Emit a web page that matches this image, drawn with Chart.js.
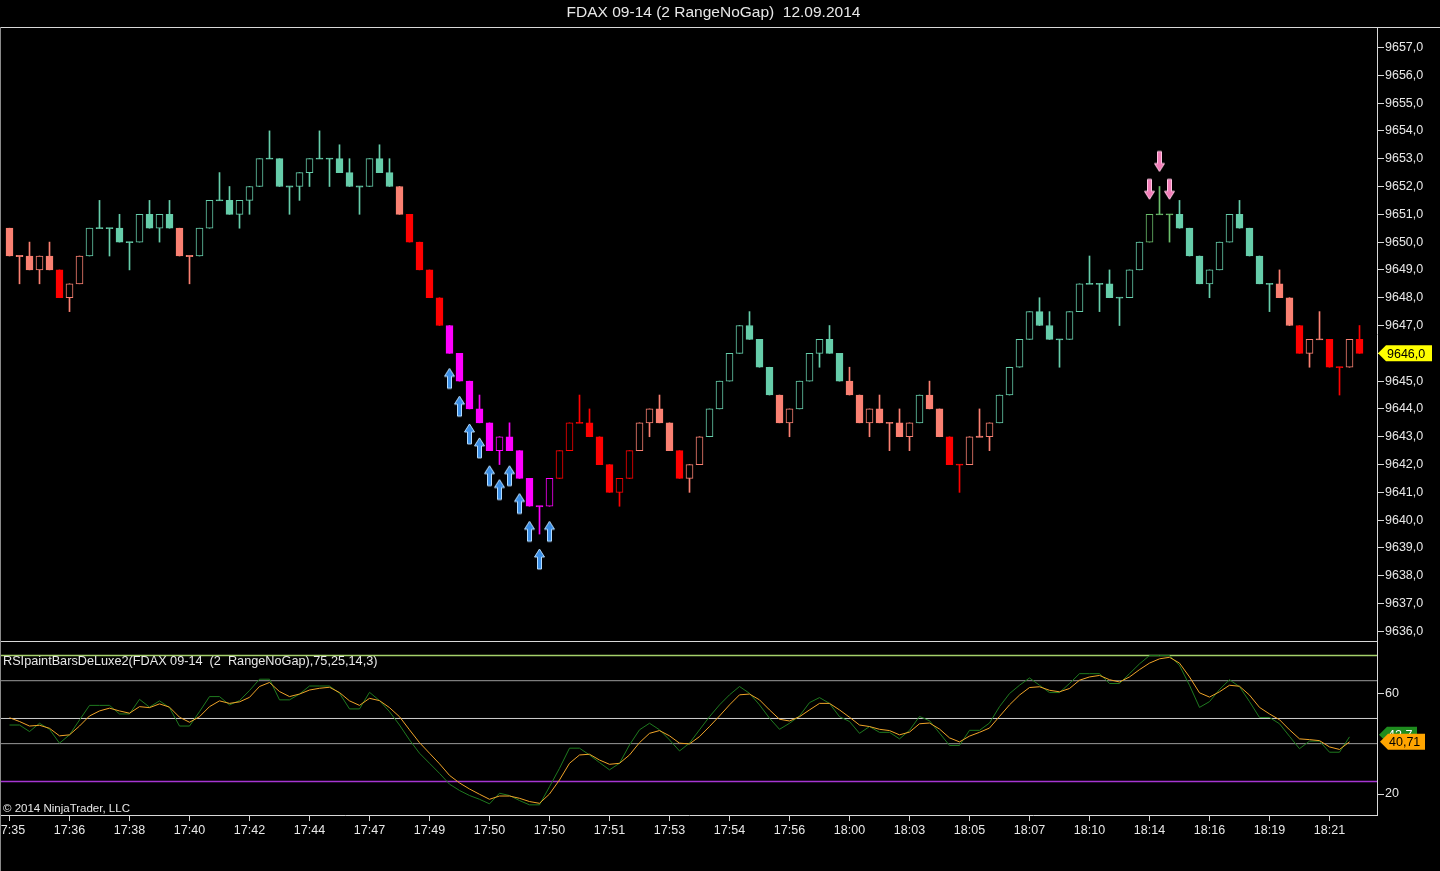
<!DOCTYPE html>
<html>
<head>
<meta charset="utf-8">
<title>FDAX 09-14 (2 RangeNoGap) 12.09.2014</title>
<script src="https://cdn.jsdelivr.net/npm/chart.js@4.4.1/dist/chart.umd.min.js"></script>
<style>
  html, body { margin: 0; padding: 0; background: #000; }
  body { width: 1440px; height: 871px; position: relative; overflow: hidden;
         font-family: 'Liberation Sans', Arial, sans-serif; color: #e8e8e8; }
  canvas { position: absolute; }
  #priceChart { left: -40px; top: 0; }
  #rsiChart { left: -40px; top: 641px; }
  .line { position: absolute; background: #d8d8d8; }
  .txt { position: absolute; white-space: pre; line-height: 1; }
</style>
</head>
<body>
<canvas id="priceChart" width="1480" height="641"></canvas>
<canvas id="rsiChart" width="1480" height="230"></canvas>
<div class="txt" style="left:0;width:1427px;top:4px;text-align:center;font-size:15.5px;">FDAX 09-14 (2 RangeNoGap)  12.09.2014</div>
<div class="line" style="left:0;top:27px;width:1440px;height:1px;"></div>
<div class="line" style="left:0;top:641px;width:1378px;height:1px;"></div>
<div class="line" style="left:0;top:27px;width:1px;height:844px;background:#8a8a8a;"></div>
<div class="txt" style="left:3px;top:655px;font-size:12.7px;">RSIpaintBarsDeLuxe2(FDAX 09-14  (2  RangeNoGap),75,25,14,3)</div>
<div class="txt" style="left:3px;top:803px;font-size:11.5px;">© 2014 NinjaTrader, LLC</div>
<script>
// range bars, one entry per bar
const opens = [
  9650.5, 9649.5, 9649.5, 9649, 9649.5, 9649, 9648, 9648.5, 9649.5, 9650.5,
  9650.5, 9650.5, 9650, 9650, 9651, 9650.5, 9651, 9650.5, 9649.5, 9649.5,
  9650.5, 9651.5, 9651.5, 9651, 9651.5, 9652, 9653, 9653, 9652, 9652,
  9652.5, 9653, 9653, 9653, 9652.5, 9652, 9652, 9653, 9652.5, 9652,
  9651, 9650, 9649, 9648, 9647, 9646, 9645, 9644, 9643.5, 9642.5,
  9643, 9642.5, 9641.5, 9640.5, 9640.5, 9641.5, 9642.5, 9643.5, 9643.5, 9643,
  9642, 9641, 9641.5, 9642.5, 9643.5, 9644, 9643.5, 9642.5, 9641.5, 9642,
  9643, 9644, 9645, 9646, 9647, 9646.5, 9645.5, 9644.5, 9643.5, 9644,
  9645, 9646, 9646.5, 9646, 9645, 9644.5, 9643.5, 9644, 9643.5, 9643.5,
  9643, 9643.5, 9644.5, 9644, 9643, 9642, 9642, 9643, 9643, 9643.5,
  9644.5, 9645.5, 9646.5, 9647.5, 9647, 9646.5, 9646.5, 9647.5, 9648.5, 9648.5,
  9648.5, 9648, 9648, 9649, 9650, 9651, 9651, 9651, 9650.5, 9649.5,
  9648.5, 9649, 9650, 9651, 9650.5, 9649.5, 9648.5, 9648.5, 9648, 9647,
  9646, 9646.5, 9646.5, 9645.5, 9645.5, 9646.5
];
const highs = [
  9650.5, 9649.5, 9650, 9649.5, 9650, 9649, 9648.5, 9649.5, 9650.5, 9651.5,
  9650.5, 9651, 9650, 9651, 9651.5, 9651, 9651.5, 9650.5, 9649.5, 9650.5,
  9651.5, 9652.5, 9652, 9651.5, 9652, 9653, 9654, 9653, 9652, 9652.5,
  9653, 9654, 9653, 9653.5, 9653, 9652, 9653, 9653.5, 9653, 9652,
  9651, 9650, 9649, 9648, 9647, 9646, 9645, 9644.5, 9643.5, 9643,
  9643.5, 9642.5, 9641.5, 9640.5, 9641.5, 9642.5, 9643.5, 9644.5, 9644, 9643,
  9642, 9641.5, 9642.5, 9643.5, 9644, 9644.5, 9643.5, 9642.5, 9642, 9643,
  9644, 9645, 9646, 9647, 9647.5, 9646.5, 9645.5, 9644.5, 9644, 9645,
  9646, 9646.5, 9647, 9646, 9645.5, 9644.5, 9644, 9644.5, 9643.5, 9644,
  9643.5, 9644.5, 9645, 9644, 9643, 9642, 9643, 9644, 9643.5, 9644.5,
  9645.5, 9646.5, 9647.5, 9648, 9647.5, 9646.5, 9647.5, 9648.5, 9649.5, 9648.5,
  9649, 9648, 9649, 9650, 9651, 9652, 9651, 9651.5, 9650.5, 9649.5,
  9649, 9650, 9651, 9651.5, 9650.5, 9649.5, 9648.5, 9649, 9648, 9647,
  9646.5, 9647.5, 9646.5, 9645.5, 9646.5, 9647
];
const lows = [
  9649.5, 9648.5, 9649, 9648.5, 9649, 9648, 9647.5, 9648.5, 9649.5, 9650.5,
  9649.5, 9650, 9649, 9650, 9650.5, 9650, 9650.5, 9649.5, 9648.5, 9649.5,
  9650.5, 9651.5, 9651, 9650.5, 9651, 9652, 9653, 9652, 9651, 9651.5,
  9652, 9653, 9652, 9652.5, 9652, 9651, 9652, 9652.5, 9652, 9651,
  9650, 9649, 9648, 9647, 9646, 9645, 9644, 9643.5, 9642.5, 9642,
  9642.5, 9641.5, 9640.5, 9639.5, 9640.5, 9641.5, 9642.5, 9643.5, 9643, 9642,
  9641, 9640.5, 9641.5, 9642.5, 9643, 9643.5, 9642.5, 9641.5, 9641, 9642,
  9643, 9644, 9645, 9646, 9646.5, 9645.5, 9644.5, 9643.5, 9643, 9644,
  9645, 9645.5, 9646, 9645, 9644.5, 9643.5, 9643, 9643.5, 9642.5, 9643,
  9642.5, 9643.5, 9644, 9643, 9642, 9641, 9642, 9643, 9642.5, 9643.5,
  9644.5, 9645.5, 9646.5, 9647, 9646.5, 9645.5, 9646.5, 9647.5, 9648.5, 9647.5,
  9648, 9647, 9648, 9649, 9650, 9651, 9650, 9650.5, 9649.5, 9648.5,
  9648, 9649, 9650, 9650.5, 9649.5, 9648.5, 9647.5, 9648, 9647, 9646,
  9645.5, 9646.5, 9645.5, 9644.5, 9645.5, 9646
];
const closes = [
  9649.5, 9649.5, 9649, 9649.5, 9649, 9648, 9648.5, 9649.5, 9650.5, 9650.5,
  9650.5, 9650, 9650, 9651, 9650.5, 9651, 9650.5, 9649.5, 9649.5, 9650.5,
  9651.5, 9651.5, 9651, 9651.5, 9652, 9653, 9653, 9652, 9652, 9652.5,
  9653, 9653, 9653, 9652.5, 9652, 9652, 9653, 9652.5, 9652, 9651,
  9650, 9649, 9648, 9647, 9646, 9645, 9644, 9643.5, 9642.5, 9643,
  9642.5, 9641.5, 9640.5, 9640.5, 9641.5, 9642.5, 9643.5, 9643.5, 9643, 9642,
  9641, 9641.5, 9642.5, 9643.5, 9644, 9643.5, 9642.5, 9641.5, 9642, 9643,
  9644, 9645, 9646, 9647, 9646.5, 9645.5, 9644.5, 9643.5, 9644, 9645,
  9646, 9646.5, 9646, 9645, 9644.5, 9643.5, 9644, 9643.5, 9643.5, 9643,
  9643.5, 9644.5, 9644, 9643, 9642, 9642, 9643, 9643, 9643.5, 9644.5,
  9645.5, 9646.5, 9647.5, 9647, 9646.5, 9646.5, 9647.5, 9648.5, 9648.5, 9648.5,
  9648, 9648, 9649, 9650, 9651, 9651, 9651, 9650.5, 9649.5, 9648.5,
  9649, 9650, 9651, 9650.5, 9649.5, 9648.5, 9648.5, 9648, 9647, 9646,
  9646.5, 9646.5, 9645.5, 9645.5, 9646.5, 9646
];

// rsi zone of each bar: u above 50, d below 50, w weak, x oversold, o overbought
const rsiZone = ('ddddd w dd uuuuu uuuu dd uuuuu uuuuu uuuuu uuuuu d wwww xxxxx xxxxx x ' +
  'wwwww www dddd w dd uuuuu uu dd uuuuu ddddd dd u dd ww ddd uuuuu uuuuu uuuuu ooo ' +
  'uuuuu uuuuu dd w dd ww d w').replace(/ /g, '').split('');

// signal arrows (bar indices)
const buyBars = [44, 45, 46, 47, 48, 49, 50, 51, 52, 53, 54];
const sellBars = [114, 115, 116];

// RSI(14) and its 3-bar average, last bar not yet calculated
const rsi = [
  47.4, 47.4, 44.8, 48.1, 45.7, 40.2, 43.5, 49.4, 55.2, 55.2,
  55.2, 51.8, 51.8, 57.6, 54.5, 57.0, 54.3, 47.0, 47.0, 52.7,
  58.7, 58.7, 55.4, 57.1, 61.1, 65.6, 65.6, 57.4, 57.4, 59.7,
  62.9, 62.9, 62.9, 60.0, 53.8, 53.8, 60.4, 57.1, 52.7, 47.4,
  41.5, 36.2, 32.2, 28.2, 23.9, 21.4, 19.4, 17.9, 16.1, 20.3,
  19.4, 17.4, 15.7, 15.7, 22.9, 30.2, 38.2, 38.2, 35.5, 32.5,
  29.6, 32.2, 39.5, 45.5, 48.1, 45.5, 41.5, 37.1, 40.2, 45.5,
  50.7, 55.4, 59.4, 62.7, 60.0, 55.4, 50.1, 45.7, 48.1, 51.0,
  56.3, 58.3, 56.0, 50.7, 48.8, 44.1, 46.8, 44.5, 44.5, 41.9,
  45.3, 50.8, 49.1, 44.2, 39.3, 39.3, 45.3, 45.3, 48.2, 54.7,
  59.9, 63.2, 66.1, 63.2, 60.3, 60.3, 63.9, 67.8, 67.8, 67.8,
  63.9, 63.9, 67.8, 71.7, 75.0, 75.0, 75.0, 71.1, 63.2, 54.4,
  56.7, 61.5, 65.4, 62.6, 56.7, 50.4, 50.4, 47.9, 42.9, 38.0,
  41.0, 41.0, 36.6, 36.6, 42.7
];
const rsiAvg = [
  50.3, 48.8, 47.0, 47.3, 46.1, 43.1, 43.5, 47.0, 51.0, 53.0,
  54.1, 53.0, 52.1, 54.7, 54.3, 55.8, 54.5, 50.5, 48.5, 50.7,
  54.7, 57.0, 56.0, 56.6, 58.4, 62.7, 64.3, 60.7, 58.7, 59.7,
  61.3, 62.0, 62.4, 60.3, 57.0, 55.2, 58.0, 57.1, 54.3, 50.7,
  45.5, 40.4, 36.2, 32.0, 27.4, 24.4, 22.0, 19.9, 17.9, 19.2,
  19.2, 18.3, 17.0, 16.3, 20.0, 25.6, 32.2, 35.5, 35.8, 33.5,
  31.8, 32.2, 35.5, 40.4, 44.1, 45.2, 43.1, 40.2, 39.9, 42.8,
  46.8, 51.0, 55.4, 59.4, 59.7, 57.4, 53.4, 49.7, 49.0, 50.7,
  53.4, 56.0, 56.0, 53.4, 50.5, 47.4, 46.8, 45.7, 45.2, 43.5,
  44.6, 47.9, 48.2, 45.8, 42.3, 40.7, 43.0, 44.5, 46.2, 50.8,
  55.4, 59.3, 62.3, 62.6, 61.2, 60.6, 61.9, 65.2, 66.5, 67.1,
  65.4, 64.5, 66.5, 69.4, 72.0, 73.7, 74.3, 72.0, 66.5, 60.2,
  58.5, 60.6, 63.2, 62.8, 59.3, 54.4, 51.8, 49.5, 45.5, 41.9,
  41.6, 41.2, 38.7, 37.7, 40.71
];
const rsiLevels = [75, 65, 50, 40, 25];

// axis labels
const priceTicks = [9636, 9637, 9638, 9639, 9640, 9641, 9642, 9643, 9644, 9645, 9646,
  9647, 9648, 9649, 9650, 9651, 9652, 9653, 9654, 9655, 9656, 9657];
const rsiTicks = [20, 60];
const timeLabels = ['17:35', '17:36', '17:38', '17:40', '17:42', '17:44', '17:47', '17:49',
  '17:50', '17:50', '17:51', '17:53', '17:54', '17:56', '18:00', '18:03', '18:05', '18:07',
  '18:10', '18:14', '18:16', '18:19', '18:21'];

const FONT = "'Liberation Sans', Arial, sans-serif";
const AXIS = '#d8d8d8';
const TEXT = '#e8e8e8';
const X_MIN = -0.85, X_MAX = 136.75;
const zoneColor = { u: '#66CDAA', d: '#FA8072', w: '#FF0000', x: '#FF00FF', o: '#6CBF6C' };
const levelColor = { 75: '#A4D06A', 65: '#9A9A9A', 50: '#D0D0D0', 40: '#9A9A9A', 25: '#A636D2' };
const levelWidth = { 75: 1.5, 65: 1, 50: 1, 40: 1, 25: 1.5 };

const idx = closes.map((_, i) => i);
const barColor = idx.map(i => zoneColor[rsiZone[i]]);
const bodyFill = idx.map(i => closes[i] > opens[i] ? '#000' : barColor[i]);
const wickData = idx.map(i => ({ x: i, y: [lows[i], highs[i]] }));
const bodyData = idx.map(i => {
  const o = opens[i], c = closes[i];
  return { x: i, y: o === c ? [o - 0.02, o + 0.02] : [o, c] };
});

// keep the plot area exactly where the layout padding puts it
function fixWidth(s) {
  s.width = 63;
  s.paddingTop = 0;
  s.paddingBottom = 0;
}
function fixHeight(s) {
  s.height = 56;
  s.paddingLeft = 0;
  s.paddingRight = 0;
}

function arrowImage(up, fill, edge) {
  const c = document.createElement('canvas');
  c.width = 13; c.height = 74;
  const g = c.getContext('2d');
  const cx = 6.5, mid = 37, s = up ? 1 : -1;
  const tip = mid + s * 15, neck = tip + s * 8, tail = mid + s * 35;
  g.beginPath();
  g.moveTo(cx, tip);
  g.lineTo(cx + 5, neck);
  g.lineTo(cx + 2, neck);
  g.lineTo(cx + 2, tail);
  g.lineTo(cx - 2, tail);
  g.lineTo(cx - 2, neck);
  g.lineTo(cx - 5, neck);
  g.closePath();
  g.fillStyle = fill;
  g.fill();
  g.strokeStyle = edge;
  g.lineWidth = 1;
  g.stroke();
  return c;
}

function valueTag(ctx, x, y, w, fill, color, text) {
  const h = 16;
  ctx.save();
  ctx.beginPath();
  ctx.moveTo(x, y);
  ctx.lineTo(x + 8, y - h / 2);
  ctx.lineTo(x + w, y - h / 2);
  ctx.lineTo(x + w, y + h / 2);
  ctx.lineTo(x + 8, y + h / 2);
  ctx.closePath();
  ctx.fillStyle = fill;
  ctx.fill();
  ctx.fillStyle = color;
  ctx.font = '12.5px ' + FONT;
  ctx.textAlign = 'left';
  ctx.textBaseline = 'middle';
  ctx.fillText(text, x + 9, y + 1);
  ctx.restore();
}

const comma = v => String(v).replace('.', ',');

const lastPriceTag = {
  id: 'lastPriceTag',
  afterDraw(chart) {
    const last = closes[closes.length - 1];
    const y = chart.scales.y.getPixelForValue(last);
    valueTag(chart.ctx, chart.chartArea.right + 1, y, 54, '#FFFF00', '#000', last.toFixed(1).replace('.', ','));
  }
};

const rsiTags = {
  id: 'rsiTags',
  afterDraw(chart) {
    const ys = chart.scales.y, x = chart.chartArea.right;
    const a = rsi[rsi.length - 1], b = rsiAvg[rsiAvg.length - 1];
    valueTag(chart.ctx, x + 2, ys.getPixelForValue(a) - 2, 38, '#1E8C1E', '#ffffff', comma(a));
    valueTag(chart.ctx, x + 3, ys.getPixelForValue(b), 45, '#FFA500', '#000', comma(b));
  }
};

new Chart(document.getElementById('priceChart'), {
  type: 'bar',
  data: {
    datasets: [
      { label: 'wick', data: wickData, backgroundColor: barColor, borderWidth: 0,
        barThickness: 1, grouped: false, order: 3 },
      { label: 'body', data: bodyData, backgroundColor: bodyFill, borderColor: barColor,
        borderWidth: 1, borderSkipped: false, barThickness: 7, grouped: false, order: 2 },
      { type: 'scatter', label: 'buy', data: buyBars.map(i => ({ x: i, y: lows[i] })),
        pointStyle: arrowImage(true, '#3A8EE6', '#B4DCFF'), pointRadius: 10, order: 1 },
      { type: 'scatter', label: 'sell', data: sellBars.map(i => ({ x: i, y: highs[i] })),
        pointStyle: arrowImage(false, '#F27DB8', '#FFC4E2'), pointRadius: 10, order: 1 }
    ]
  },
  options: {
    responsive: false,
    animation: false,
    devicePixelRatio: 1,
    events: [],
    layout: { autoPadding: false, padding: { left: 41, top: 28, right: 0, bottom: 1 } },
    plugins: { legend: { display: false }, tooltip: { enabled: false } },
    scales: {
      x: { type: 'linear', display: false, min: X_MIN, max: X_MAX, offset: false, bounds: 'data' },
      y: {
        position: 'right', min: 9635.69, max: 9657.70, bounds: 'data',
        afterFit: fixWidth,
        afterBuildTicks: s => { s.ticks = priceTicks.map(v => ({ value: v })); },
        ticks: { color: TEXT, font: { family: FONT, size: 12.5 }, padding: 1,
                 callback: v => v.toFixed(1).replace('.', ',') },
        grid: { drawOnChartArea: false, tickLength: 7, color: AXIS, tickColor: AXIS },
        border: { color: AXIS }
      }
    }
  },
  plugins: [lastPriceTag]
});

new Chart(document.getElementById('rsiChart'), {
  type: 'line',
  data: {
    datasets: [
      ...rsiLevels.map(v => ({
        label: 'level ' + v, data: [{ x: X_MIN, y: v }, { x: X_MAX, y: v }],
        borderColor: levelColor[v], borderWidth: levelWidth[v], pointRadius: 0, order: 5
      })),
      { label: 'RSI', data: rsi.map((v, i) => ({ x: i, y: v })), borderColor: '#1F7A1F',
        borderWidth: 1, pointRadius: 0, tension: 0, order: 2 },
      { label: 'Avg', data: rsiAvg.map((v, i) => ({ x: i, y: v })), borderColor: '#F0A428',
        borderWidth: 1, pointRadius: 0, tension: 0, order: 1 }
    ]
  },
  options: {
    responsive: false,
    animation: false,
    devicePixelRatio: 1,
    events: [],
    layout: { autoPadding: false, padding: { left: 41, top: 1, right: 0, bottom: 0 } },
    plugins: { legend: { display: false }, tooltip: { enabled: false } },
    scales: {
      x: {
        type: 'linear', min: X_MIN, max: X_MAX, offset: false, bounds: 'data',
        afterFit: fixHeight,
        afterBuildTicks: s => { s.ticks = timeLabels.map((_, k) => ({ value: k * 6 })); },
        ticks: { autoSkip: false, maxRotation: 0, color: TEXT, padding: 2,
                 font: { family: FONT, size: 12.5 }, callback: v => timeLabels[v / 6] },
        grid: { drawOnChartArea: false, tickLength: 6, color: AXIS, tickColor: AXIS },
        border: { color: AXIS }
      },
      y: {
        position: 'right', min: 11.66, max: 80.38, bounds: 'data',
        afterFit: fixWidth,
        afterBuildTicks: s => { s.ticks = rsiTicks.map(v => ({ value: v })); },
        ticks: { color: TEXT, font: { family: FONT, size: 12.5 }, padding: 1 },
        grid: { drawOnChartArea: false, tickLength: 7, color: AXIS, tickColor: AXIS },
        border: { color: AXIS }
      }
    }
  },
  plugins: [rsiTags]
});
</script>
</body>
</html>
